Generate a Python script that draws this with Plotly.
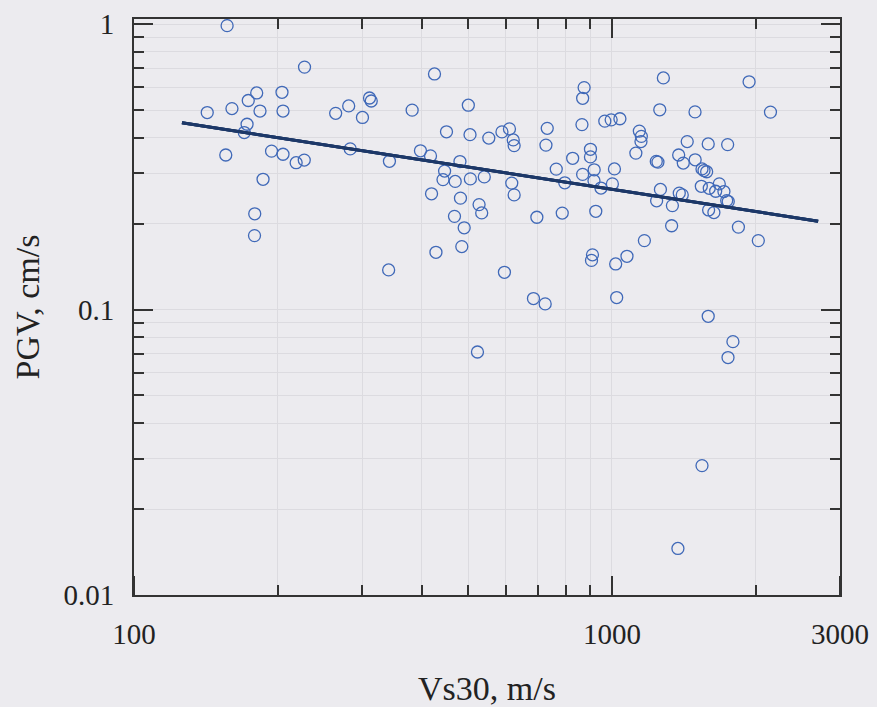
import plotly.graph_objects as go

# Vs30 (m/s) and PGV (cm/s)
vs30 = [156.6, 227.4, 425.3, 142.3, 160.3, 173.4, 180.6, 183.5, 204.0, 205.0,
        172.4, 170.1, 155.6, 194.0, 205.0, 218.4, 227.1, 186.2, 178.9, 178.7,
        264.2, 281.3, 300.6, 311.0, 313.6, 283.4, 342.3, 341.0, 381.9, 450.6,
        500.6, 504.7, 552.5, 588.6, 610.3, 621.5, 624.2, 397.5, 417.2, 480.8,
        446.5, 443.1, 469.9, 505.5, 540.6, 419.3, 482.0, 527.2, 533.9, 468.3,
        490.7, 485.1, 428.3, 595.7, 523.1, 617.1, 624.2, 696.4, 685.1, 724.9,
        732.1, 727.6, 764.6, 796.6, 827.5, 787.0, 874.5, 868.3, 865.4, 901.6,
        901.6, 917.9, 868.3, 917.0, 948.4, 925.0, 910.4, 906.1, 966.1, 996.2,
        1039, 1012, 1002, 1018, 1075, 1023, 1141, 1152, 1150, 1122,
        1169, 1281, 1259, 1238, 1248, 1263, 1240, 1338, 1333, 1379,
        1410, 1383, 1403, 1437, 1492, 1493, 1543, 1558, 1578, 1538,
        1598, 1590, 1677, 1648, 1715, 1738, 1751, 1593, 1634, 1746,
        1936, 2146, 1839, 2024, 1590, 1791, 1749, 1543, 1374]
pgv = [0.988, 0.707, 0.669, 0.490, 0.506, 0.540, 0.574, 0.496, 0.577, 0.496,
       0.446, 0.417, 0.348, 0.359, 0.350, 0.327, 0.334, 0.286, 0.2165, 0.1816,
       0.487, 0.517, 0.471, 0.551, 0.538, 0.3655, 0.3307, 0.1377, 0.4997, 0.4196,
       0.520, 0.410, 0.3988, 0.4193, 0.4295, 0.393, 0.3753, 0.3599, 0.3455, 0.330,
       0.3056, 0.2853, 0.2812, 0.287, 0.2916, 0.2544, 0.2457, 0.2332, 0.2181, 0.2121,
       0.1934, 0.1662, 0.1587, 0.1351, 0.0710, 0.2774, 0.2522, 0.2106, 0.1093, 0.1047,
       0.4315, 0.3769, 0.3105, 0.278, 0.3388, 0.2178, 0.5994, 0.5497, 0.4446, 0.3643,
       0.3427, 0.3088, 0.2976, 0.2829, 0.2665, 0.2209, 0.1555, 0.1487, 0.4572, 0.462,
       0.4661, 0.311, 0.2756, 0.1445, 0.1537, 0.1102, 0.4219, 0.4044, 0.3877, 0.3533,
       0.1744, 0.648, 0.501, 0.3305, 0.3286, 0.2636, 0.2405, 0.2313, 0.1966, 0.348,
       0.326, 0.2558, 0.2522, 0.3877, 0.4927, 0.3347, 0.311, 0.3069, 0.304, 0.2703,
       0.266, 0.3805, 0.2756, 0.2597, 0.2591, 0.2409, 0.239, 0.2234, 0.2187, 0.3784,
       0.628, 0.4918, 0.1945, 0.1744, 0.0947, 0.0772, 0.0679, 0.0284, 0.01456]

# Regression line end points
fit_vs30 = [126, 2700]
fit_pgv = [0.451, 0.204]

x_range_log = [2, 3.4771]
y_range_log = [-2, 0.018]
x_ticks = [100, 1000, 3000]
x_ticktext = ["100", "1000", "3000"]
x_minor = [200, 300, 400, 500, 600, 700, 800, 900, 2000]
y_ticks = [0.01, 0.1, 1]
y_ticktext = ["0.01", "0.1", "1"]
y_minor = [0.02, 0.03, 0.04, 0.05, 0.06, 0.07, 0.08, 0.09,
           0.2, 0.3, 0.4, 0.5, 0.6, 0.7, 0.8, 0.9]

BG = "#ecebef"
AX = "#333333"
GRID = "#dcdbe0"
FONT = "Liberation Serif"
TXT = "#222222"

fig = go.Figure()
fig.add_trace(go.Scatter(
    x=vs30, y=pgv, mode="markers",
    marker=dict(symbol="circle-open", size=12, color="#4069b8",
                line=dict(width=1.3, color="#4069b8")),
    showlegend=False, hoverinfo="x+y"))
fig.add_trace(go.Scatter(
    x=fit_vs30, y=fit_pgv, mode="lines",
    line=dict(color="#1d3868", width=3), showlegend=False))
# same fit line on the tick-only axes so that those axes are drawn
fig.add_trace(go.Scatter(
    x=fit_vs30, y=fit_pgv, mode="lines", xaxis="x2", yaxis="y2",
    line=dict(color="#1d3868", width=3), showlegend=False, hoverinfo="skip"))
fig.add_trace(go.Scatter(
    x=fit_vs30, y=fit_pgv, mode="lines", xaxis="x3", yaxis="y",
    line=dict(color="#1d3868", width=3), showlegend=False, hoverinfo="skip"))

tick_common = dict(tickcolor=AX, tickwidth=2, ticklen=19,
                   automargin=False, zeroline=False)
x_minor_in = dict(tickmode="array", tickvals=x_minor, ticks="inside", ticklen=10,
                  tickwidth=2, tickcolor=AX, showgrid=False)
x_minor_out = dict(tickmode="array", tickvals=x_minor, ticks="outside", ticklen=10,
                   tickwidth=2, tickcolor=AX, showgrid=False)
y_minor_in = dict(tickmode="array", tickvals=y_minor, ticks="inside", ticklen=10,
                  tickwidth=2, tickcolor=AX, showgrid=False)

fig.update_layout(
    xaxis=dict(
        type="log", range=x_range_log,
        tickmode="array", tickvals=x_ticks, ticktext=x_ticktext,
        ticks="", automargin=False, zeroline=False,
        minor=dict(tickmode="array", tickvals=x_minor, showgrid=True, gridcolor=GRID),
        showline=True, linecolor=AX, linewidth=2, mirror=True,
        showgrid=True, gridcolor=GRID, gridwidth=1,
        tickfont=dict(family=FONT, size=29, color=TXT),
        ticklabelstandoff=12,
        title=dict(text="Vs30, m/s", font=dict(family=FONT, size=34, color=TXT),
                   standoff=28)),
    # top frame ticks (pointing down into the plot)
    xaxis2=dict(
        type="log", range=x_range_log, overlaying="x", side="top", anchor="y2",
        tickmode="array", tickvals=x_ticks, ticks="inside", minor=x_minor_in,
        showline=False, showgrid=False, showticklabels=False,
        **tick_common),
    # bottom frame ticks: a top-sided axis placed at the bottom, ticks pointing up
    xaxis3=dict(
        type="log", range=x_range_log, overlaying="x", side="top",
        anchor="free", position=0,
        tickmode="array", tickvals=x_ticks, ticks="outside", minor=x_minor_out,
        showline=False, showgrid=False, showticklabels=False,
        **tick_common),
    yaxis=dict(
        type="log", range=y_range_log,
        tickmode="array", tickvals=y_ticks, ticktext=y_ticktext, ticks="inside",
        minor=dict(tickmode="array", tickvals=y_minor, ticks="inside", ticklen=10,
                   tickwidth=2, tickcolor=AX, showgrid=True, gridcolor=GRID),
        showline=True, linecolor=AX, linewidth=2, mirror=True,
        showgrid=True, gridcolor=GRID, gridwidth=1,
        tickfont=dict(family=FONT, size=29, color=TXT),
        ticklabelstandoff=12,
        title=dict(text="PGV, cm/s", font=dict(family=FONT, size=34, color=TXT),
                   standoff=14),
        **tick_common),
    yaxis2=dict(
        type="log", range=y_range_log, overlaying="y", side="right", anchor="x2",
        tickmode="array", tickvals=y_ticks, ticks="inside", minor=y_minor_in,
        showline=False, showgrid=False, showticklabels=False,
        **tick_common),
    width=877, height=707,
    margin=dict(l=134, r=37, t=19, b=112, pad=0),
    paper_bgcolor=BG, plot_bgcolor=BG,
    font=dict(family=FONT),
)

fig.write_html("out.html")
